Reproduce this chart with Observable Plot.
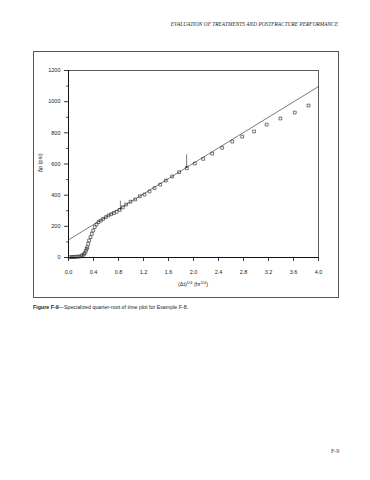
<!DOCTYPE html>
<html>
<head>
<meta charset="utf-8">
<script src="https://cdn.jsdelivr.net/npm/d3@7"></script>
<script src="https://cdn.jsdelivr.net/npm/@observablehq/plot@0.6"></script>
<style>
  html, body { margin: 0; padding: 0; background: #fff; }
  body { width: 370px; height: 480px; position: relative; overflow: hidden; font-family: "Liberation Sans", Arial, sans-serif; color: #222; }
  .abs { position: absolute; }
  #header { right: 32px; top: 21px; font-family: "Liberation Serif", serif; font-style: italic; font-size: 5.3px; letter-spacing: 0.05px; white-space: nowrap; color: #222; }
  #box { left: 33px; top: 51px; width: 304px; height: 245px; border: 1px solid #555; }
  #chart { left: 0; top: 0; }
  #xlabel { left: 0; width: 386px; top: 281px; text-align: center; font-size: 5.5px; white-space: nowrap; }
  #xlabel sup { font-size: 4px; vertical-align: 2px; line-height: 0; }
  #ylabel { left: 40px; top: 163px; font-size: 5.5px; transform: translate(-50%, -50%) rotate(-90deg); white-space: nowrap; }
  #caption { left: 33px; top: 304px; font-size: 5.3px; white-space: nowrap; }
  #pagenum { left: 331px; top: 448px; font-family: "Liberation Serif", serif; font-size: 6px; color: #444; }
</style>
</head>
<body>
<div id="header" class="abs">EVALUATION OF TREATMENTS AND POSTFRACTURE PERFORMANCE</div>
<div id="box" class="abs"></div>
<div id="chart" class="abs"></div>
<div id="ylabel" class="abs">Δp (psi)</div>
<div id="xlabel" class="abs">(Δt)<sup>1/4</sup> (hr<sup>1/4</sup>)</div>
<div id="caption" class="abs"><b>Figure F-9</b>—Specialized quarter-root of time plot for Example F-8.</div>
<div id="pagenum" class="abs">F-9</div>
<script>
// Data
const qrtTime = [0.02,0.05,0.08,0.11,0.14,0.17,0.20,0.22,0.245,0.26,0.277,0.29,0.30,0.315,0.33,0.352,0.373,0.395,0.42,0.448,0.48,0.517,0.555,0.597,0.64,0.683,0.725,0.77,0.82,0.87,0.923,0.992,1.067,1.141,1.216,1.296,1.376,1.467,1.557,1.659,1.771,1.893,2.021,2.155,2.299,2.459,2.62,2.78,2.97,3.17,3.39,3.62,3.84];
const deltaP  = [2,3,3,4,5,6,8,14,20,28,42,55,66,88,109,130,152,173,195,212,227,237,248,259,270,278,285,293,305,322,340,358,372,393,404,424,445,468,494,520,547,573,603,633,667,704,744,776,809,853,892,930,975];

// Straight-line fit
const fitX = [0, 4];
const fitY = [113, 1097];

// Arrow annotations (x, from y, to y)
const arrowX = [0.83, 1.89];
const arrowFrom = [362, 660];
const arrowTo = [308, 578];

const xTicks = [0, 0.4, 0.8, 1.2, 1.6, 2.0, 2.4, 2.8, 3.2, 3.6, 4.0];
const yTicks = [0, 200, 400, 600, 800, 1000, 1200];
const yMinorTicks = [100, 300, 500, 700, 900, 1100];

const points = qrtTime.map((x, i) => ({x, y: deltaP[i]}));
const fit = fitX.map((x, i) => ({x, y: fitY[i]}));
const arrows = arrowX.map((x, i) => ({x, y1: arrowFrom[i], y2: arrowTo[i]}));

const chart = Plot.plot({
  width: 370,
  height: 300,
  marginLeft: 68,
  marginRight: 52,
  marginTop: 70,
  marginBottom: 43,
  x: {domain: [0, 4]},
  y: {domain: [0, 1200]},
  style: {fontFamily: "'Liberation Sans', Arial, sans-serif", fontSize: "5.5px", background: "transparent", color: "#222"},
  marks: [
    Plot.frame({stroke: "#333", strokeWidth: 0.8}),
    Plot.axisX({ticks: xTicks, tickFormat: d => d.toFixed(1), tickSize: 4, tickPadding: 9, label: null, strokeWidth: 0.9}),
    Plot.axisY({ticks: yTicks, tickFormat: d => String(d), tickSize: 4, tickPadding: 4, label: null, strokeWidth: 0.9}),
    Plot.axisY({ticks: yMinorTicks, tickSize: 2, text: null, label: null, strokeWidth: 0.8}),
    Plot.ruleX([0], {stroke: "#111", strokeWidth: 1}),
    Plot.ruleY([0], {stroke: "#111", strokeWidth: 1}),
    Plot.line(fit, {x: "x", y: "y", stroke: "#222", strokeWidth: 0.6}),
    Plot.dot(points, {x: "x", y: "y", symbol: "square", r: 1.6, stroke: "#222", strokeWidth: 0.6, fill: "none"}),
    Plot.arrow(arrows, {x: "x", y1: "y1", y2: "y2", stroke: "#222", strokeWidth: 0.6, headLength: 3, headAngle: 40})
  ]
});
document.getElementById("chart").appendChild(chart);
</script>
</body>
</html>
